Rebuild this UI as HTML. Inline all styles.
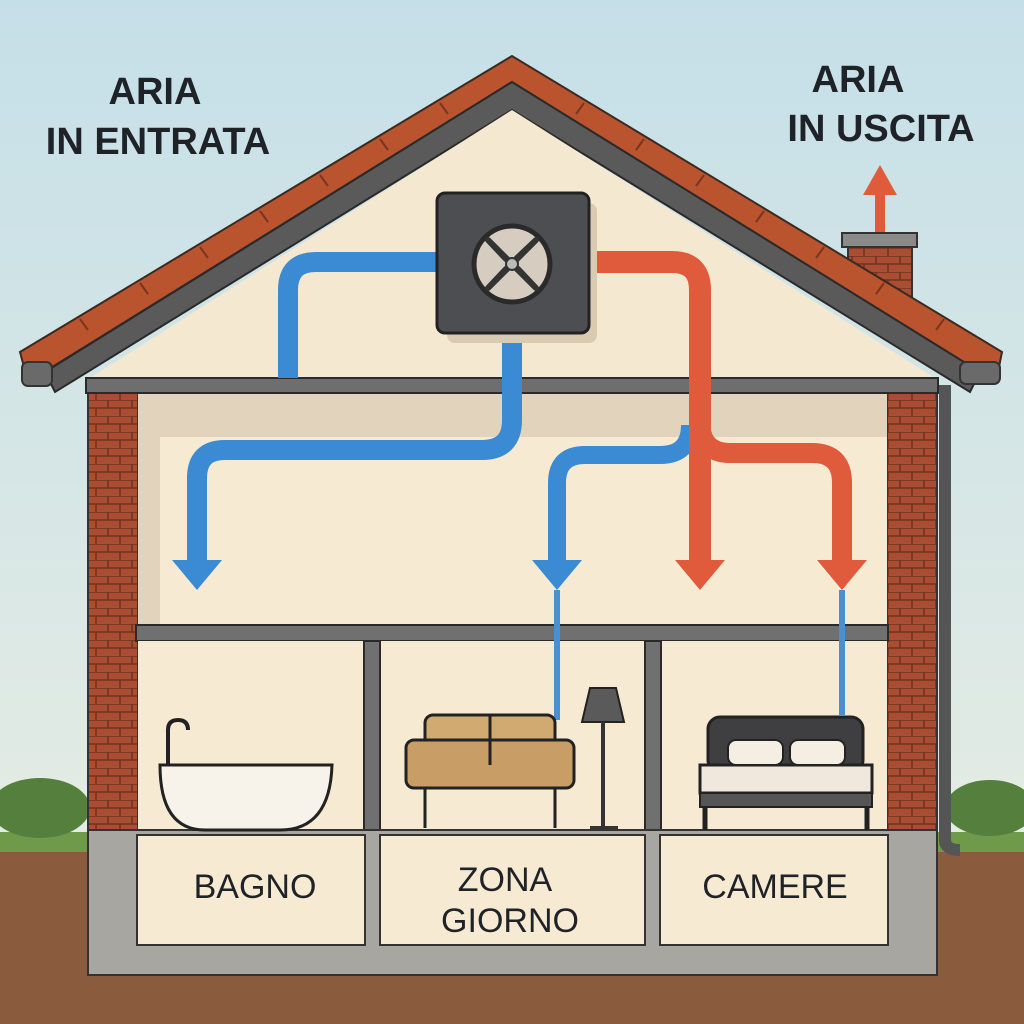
<!DOCTYPE html>
<html><head><meta charset="utf-8"><style>html,body{margin:0;padding:0}svg{display:block}text{font-family:"Liberation Sans",sans-serif;fill:#1f2328}</style></head><body>
<svg width="1024" height="1024" viewBox="0 0 1024 1024" xmlns="http://www.w3.org/2000/svg">
<defs>
<linearGradient id="sky" x1="0" y1="0" x2="0" y2="1"><stop offset="0" stop-color="#c5dfe8"/><stop offset="1" stop-color="#e4ece4"/></linearGradient>
<pattern id="brick" width="24" height="16" patternUnits="userSpaceOnUse"><rect width="24" height="16" fill="#a94d33"/><path d="M0 0H24M0 8H24M12 0V8M0 8V16M24 8V16" stroke="#6e3322" stroke-width="1.5"/></pattern>
</defs>
<rect width="1024" height="850" fill="url(#sky)"/>
<rect y="848" width="1024" height="176" fill="#8b5b3d"/>
<rect y="832" width="1024" height="20" fill="#6f9a4a"/>
<ellipse cx="40" cy="808" rx="50" ry="30" fill="#557f3c"/>
<ellipse cx="990" cy="808" rx="45" ry="28" fill="#557f3c"/>
<!-- chimney -->
<rect x="848" y="240" width="64" height="70" fill="url(#brick)" stroke="#333" stroke-width="2"/>
<rect x="842" y="233" width="75" height="14" fill="#8a8a88" stroke="#333" stroke-width="2"/>
<!-- roof -->
<polygon points="512,56 20,352 28,382 512,82 996,382 1002,352" fill="#b9542f" stroke="#3a2a22" stroke-width="2"/>
<g stroke="#7a3520" stroke-width="2">
<path d="M80 319 L88 330 M140 283 L148 294 M200 247 L208 258 M260 211 L268 222 M320 175 L328 186 M380 139 L388 150 M440 103 L448 114 M944 319 L936 330 M884 283 L876 294 M824 247 L816 258 M764 211 L756 222 M704 175 L696 186 M644 139 L636 150 M584 103 L576 114"/>
</g>
<polygon points="512,82 45,372 55,392 512,110 970,392 980,372" fill="#5a5a5a" stroke="#2a2a2a" stroke-width="2"/>
<polygon points="512,110 90,378 935,378" fill="#f5e8d0"/>
<!-- walls -->
<rect x="88" y="392" width="50" height="440" fill="url(#brick)" stroke="#333" stroke-width="2"/>
<rect x="887" y="392" width="50" height="440" fill="url(#brick)" stroke="#333" stroke-width="2"/>
<rect x="138" y="392" width="749" height="235" fill="#f6ead3"/>
<rect x="138" y="392" width="749" height="45" fill="#e2d4bc"/>
<rect x="138" y="392" width="22" height="235" fill="#e2d4bc"/>
<rect x="86" y="378" width="852" height="15" fill="#6e6e6e" stroke="#2a2a2a" stroke-width="2"/>
<rect x="136" y="625" width="752" height="16" fill="#707070" stroke="#2a2a2a" stroke-width="2"/>
<rect x="138" y="641" width="749" height="192" fill="#f6ead3"/>
<rect x="364" y="641" width="16" height="192" fill="#707070" stroke="#2a2a2a" stroke-width="2"/>
<rect x="645" y="641" width="16" height="192" fill="#707070" stroke="#2a2a2a" stroke-width="2"/>
<!-- foundation -->
<rect x="88" y="830" width="849" height="145" fill="#a8a6a0" stroke="#333" stroke-width="2"/>
<rect x="137" y="835" width="228" height="110" fill="#f6ead3" stroke="#333" stroke-width="2"/>
<rect x="380" y="835" width="265" height="110" fill="#f6ead3" stroke="#333" stroke-width="2"/>
<rect x="660" y="835" width="228" height="110" fill="#f6ead3" stroke="#333" stroke-width="2"/>
<!-- gutter pipe -->
<path d="M945 385 V840 Q945 850 960 850" fill="none" stroke="#555" stroke-width="12"/>
<rect x="960" y="362" width="40" height="22" rx="6" fill="#6a6a6a" stroke="#333" stroke-width="2"/>
<rect x="22" y="362" width="30" height="24" rx="6" fill="#6a6a6a" stroke="#333" stroke-width="2"/>
<!-- ducts -->
<g fill="none" stroke-linecap="butt">
<path d="M288 378 V290 Q288 262 316 262 H440" stroke="#3a8ad4" stroke-width="20"/>
<path d="M512 330 V420 Q512 450 482 450 H225 Q197 450 197 478 V565" stroke="#3a8ad4" stroke-width="20"/>
<path d="M690 425 Q690 455 660 455 H585 Q557 455 557 483 V565" stroke="#3a8ad4" stroke-width="18"/>
<path d="M557 590 V720 M842 590 V715" stroke="#4a8fd0" stroke-width="6"/>
<path d="M585 262 H672 Q700 262 700 290 V565" stroke="#e05a3c" stroke-width="22"/>
<path d="M700 420 Q700 453 730 453 H812 Q842 453 842 483 V565" stroke="#e05a3c" stroke-width="20"/>
<path d="M880 232 V190" stroke="#e05a3c" stroke-width="10"/>
</g>
<polygon points="172,560 222,560 197,590" fill="#3a8ad4"/>
<polygon points="532,560 582,560 557,590" fill="#3a8ad4"/>
<polygon points="675,560 725,560 700,590" fill="#e05a3c"/>
<polygon points="817,560 867,560 842,590" fill="#e05a3c"/>
<polygon points="863,195 897,195 880,165" fill="#e05a3c"/>
<!-- unit -->
<rect x="447" y="203" width="150" height="140" rx="8" fill="#d9cbb2"/>
<rect x="437" y="193" width="152" height="140" rx="8" fill="#4d4e52" stroke="#222" stroke-width="3"/>
<circle cx="512" cy="264" r="38" fill="#d6cdc0" stroke="#2a2a2a" stroke-width="5"/>
<path d="M512 264 L488 240 L505 258Z M512 264 L536 240 L518 257Z M512 264 L536 288 L519 270Z M512 264 L488 288 L505 270Z" fill="#333" stroke="#333" stroke-width="6" stroke-linejoin="round"/>
<circle cx="512" cy="264" r="6" fill="#bbb" stroke="#333" stroke-width="2"/>
<!-- bathtub -->
<path d="M160 765 H332 Q330 830 280 830 H205 Q160 830 160 765Z" fill="#f8f3ea" stroke="#222" stroke-width="3"/>
<path d="M168 765 V730 Q168 720 178 720 Q188 720 188 730" fill="none" stroke="#222" stroke-width="4"/>
<!-- sofa -->
<rect x="425" y="715" width="130" height="50" rx="8" fill="#d1aa72" stroke="#222" stroke-width="3"/>
<rect x="406" y="740" width="168" height="48" rx="8" fill="#c99e66" stroke="#222" stroke-width="3"/>
<path d="M425 788 V828 M555 788 V828 M490 715 V765" stroke="#222" stroke-width="3"/>
<polygon points="590,688 616,688 624,722 582,722" fill="#5a5a5a" stroke="#222" stroke-width="2"/>
<path d="M603 722 V828 M590 828 H618" stroke="#333" stroke-width="4"/>
<!-- bed -->
<rect x="708" y="717" width="155" height="55" rx="12" fill="#3f3f42" stroke="#222" stroke-width="3"/>
<rect x="700" y="765" width="172" height="28" fill="#f0e8dc" stroke="#222" stroke-width="3"/>
<rect x="700" y="793" width="172" height="14" fill="#555" stroke="#222" stroke-width="2"/>
<rect x="728" y="740" width="55" height="25" rx="8" fill="#f5efe3" stroke="#222" stroke-width="2"/>
<rect x="790" y="740" width="55" height="25" rx="8" fill="#f5efe3" stroke="#222" stroke-width="2"/>
<path d="M705 807 V830 M867 807 V830" stroke="#222" stroke-width="5"/>
<!-- text -->
<g font-weight="bold">
<text x="155" y="104" font-size="38" text-anchor="middle">ARIA</text>
<text x="158" y="154" font-size="38" text-anchor="middle">IN ENTRATA</text>
<text x="858" y="92" font-size="38" text-anchor="middle">ARIA</text>
<text x="881" y="141" font-size="38" text-anchor="middle">IN USCITA</text>
</g>
<text x="255" y="898" font-size="34" text-anchor="middle">BAGNO</text>
<text x="505" y="891" font-size="34" text-anchor="middle">ZONA</text>
<text x="510" y="932" font-size="34" text-anchor="middle">GIORNO</text>
<text x="775" y="898" font-size="34" text-anchor="middle">CAMERE</text>
</svg>
</body></html>
